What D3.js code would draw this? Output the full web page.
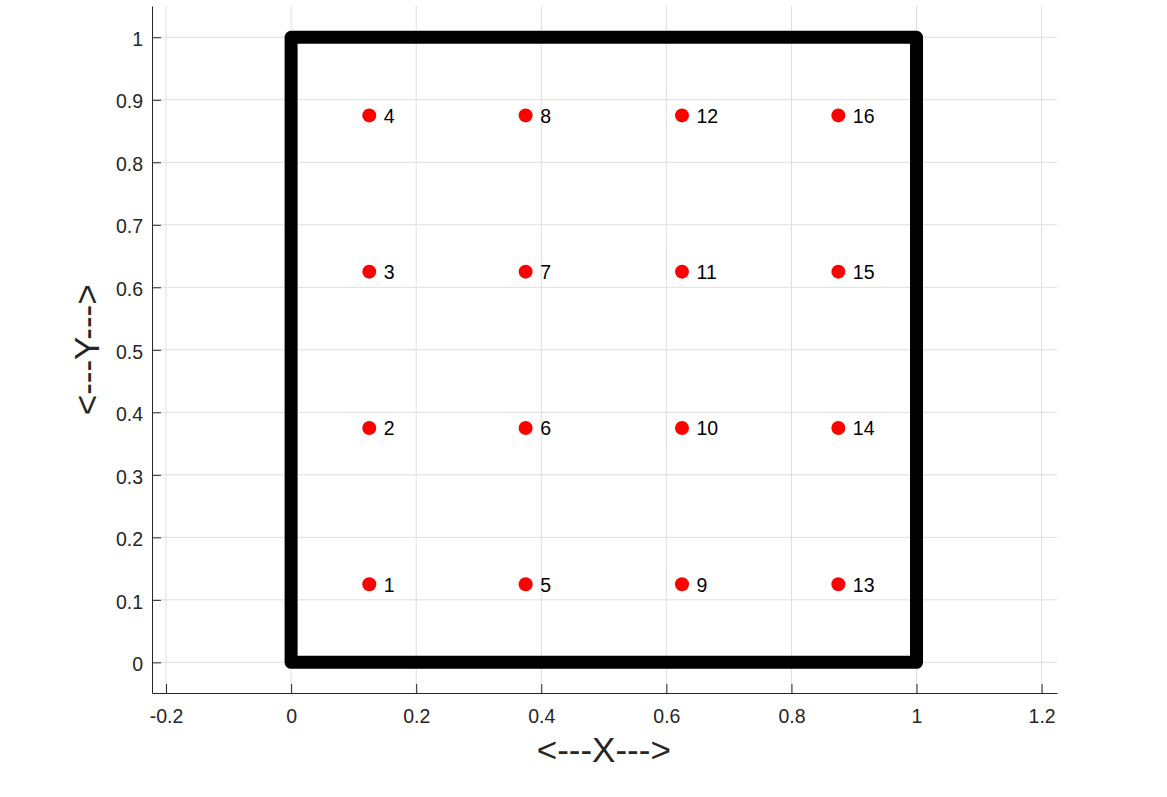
<!DOCTYPE html>
<html>
<head>
<meta charset="utf-8">
<script src="https://cdn.jsdelivr.net/npm/d3@7"></script>
<style>
  body { margin: 0; background: #fff; }
  text { font-family: "Liberation Sans", Arial, Helvetica, sans-serif; }
</style>
</head>
<body>
<div id="svg"></div>
<script>
// point grid (numbered column by column)
var pointX = [0.125, 0.125, 0.125, 0.125, 0.375, 0.375, 0.375, 0.375,
              0.625, 0.625, 0.625, 0.625, 0.875, 0.875, 0.875, 0.875];
var pointY = [0.125, 0.375, 0.625, 0.875, 0.125, 0.375, 0.625, 0.875,
              0.125, 0.375, 0.625, 0.875, 0.125, 0.375, 0.625, 0.875];
var pointLabels = ["1", "2", "3", "4", "5", "6", "7", "8",
                   "9", "10", "11", "12", "13", "14", "15", "16"];
// boundary of the unit square
var boundaryX = [0, 1, 1, 0, 0];
var boundaryY = [0, 0, 1, 1, 0];
// ticks
var xTicks = [-0.2, 0, 0.2, 0.4, 0.6, 0.8, 1, 1.2];
var yTicks = [0, 0.1, 0.2, 0.3, 0.4, 0.5, 0.6, 0.7, 0.8, 0.9, 1];
var xLabel = "<---X--->";
var yLabel = "<---Y--->";

var svgWidth = 1167;
var svgHeight = 797;
var margin = {top: 6, right: 110, bottom: 104, left: 152};
var chartWidth = svgWidth - margin.left - margin.right;
var chartHeight = svgHeight - margin.top - margin.bottom;

var svg = d3.select("#svg")
    .append("svg")
    .attr("width", svgWidth)
    .attr("height", svgHeight);

var chartGroup = svg.append("g")
    .attr("transform", `translate(${margin.left},${margin.top})`);

// axis equal: same pixels per unit on both axes
var xScale = d3.scaleLinear()
    .domain([-0.2224, 1.2246])
    .range([0, chartWidth]);
var yScale = d3.scaleLinear()
    .domain([-0.049, 1.050])
    .range([chartHeight, 0]);

// plain hyphen for negatives, like the original
var tickFmt = d => String(+d.toFixed(2));

// grid lines
chartGroup.append("g")
    .selectAll("line")
    .data(xTicks)
    .enter()
    .append("line")
    .attr("x1", d => xScale(d)).attr("x2", d => xScale(d))
    .attr("y1", 0).attr("y2", chartHeight)
    .attr("stroke", "#dfdfdf")
    .attr("stroke-width", 1);
chartGroup.append("g")
    .selectAll("line")
    .data(yTicks)
    .enter()
    .append("line")
    .attr("x1", 0).attr("x2", chartWidth)
    .attr("y1", d => yScale(d)).attr("y2", d => yScale(d))
    .attr("stroke", "#dfdfdf")
    .attr("stroke-width", 1);

// axes, ticks pointing inward
var bottomAxis = d3.axisBottom(xScale)
    .tickValues(xTicks)
    .tickSizeInner(-9)
    .tickSizeOuter(0)
    .tickPadding(16)
    .tickFormat(tickFmt);
var leftAxis = d3.axisLeft(yScale)
    .tickValues(yTicks)
    .tickSizeInner(-9)
    .tickSizeOuter(0)
    .tickPadding(18)
    .tickFormat(tickFmt);

var xAxisG = chartGroup.append("g")
    .attr("class", "x-axis")
    .attr("transform", `translate(0,${chartHeight})`)
    .call(bottomAxis);
var yAxisG = chartGroup.append("g")
    .attr("class", "y-axis")
    .call(leftAxis);

[xAxisG, yAxisG].forEach(g => {
    g.attr("font-size", null).attr("font-family", null);
    g.select(".domain").attr("stroke", "#262626").attr("stroke-width", 1);
    g.selectAll(".tick line").attr("stroke", "#262626").attr("stroke-width", 1);
    g.selectAll(".tick text")
        .attr("fill", "#262626")
        .style("font-size", "19.5px");
});
yAxisG.selectAll(".tick text").attr("dy", "0.42em");
yAxisG.selectAll(".tick text").attr("x", -9);

// boundary square
var boundaryLine = d3.line()
    .x(d => xScale(d[0]))
    .y(d => yScale(d[1]));
chartGroup.append("path")
    .datum(boundaryX.map((d, i) => [d, boundaryY[i]]))
    .attr("d", boundaryLine)
    .attr("fill", "none")
    .attr("stroke", "#000")
    .attr("stroke-width", 13)
    .attr("stroke-linejoin", "round")
    .attr("stroke-linecap", "round");

// red points
chartGroup.selectAll(".pt")
    .data(pointX)
    .enter()
    .append("circle")
    .attr("class", "pt")
    .attr("cx", d => xScale(d))
    .attr("cy", (d, i) => yScale(pointY[i]))
    .attr("r", 7)
    .attr("fill", "#ff0000");

// point numbers
chartGroup.selectAll(".ptLabel")
    .data(pointLabels)
    .enter()
    .append("text")
    .attr("class", "ptLabel")
    .attr("x", (d, i) => xScale(pointX[i] + 0.02) + 2)
    .attr("y", (d, i) => yScale(pointY[i]) + 7.5)
    .style("font-size", "19.5px")
    .attr("fill", "#000")
    .text(d => d);

// axis labels
chartGroup.append("text")
    .attr("text-anchor", "middle")
    .attr("x", xScale(0.5))
    .attr("y", chartHeight + 69)
    .style("font-size", "35px")
    .attr("fill", "#262626")
    .text(xLabel);
chartGroup.append("text")
    .attr("text-anchor", "middle")
    .attr("transform", `translate(${99 - margin.left},${yScale(0.5)})rotate(-90)`)
    .style("font-size", "35px")
    .attr("fill", "#262626")
    .text(yLabel);
</script>
</body>
</html>
